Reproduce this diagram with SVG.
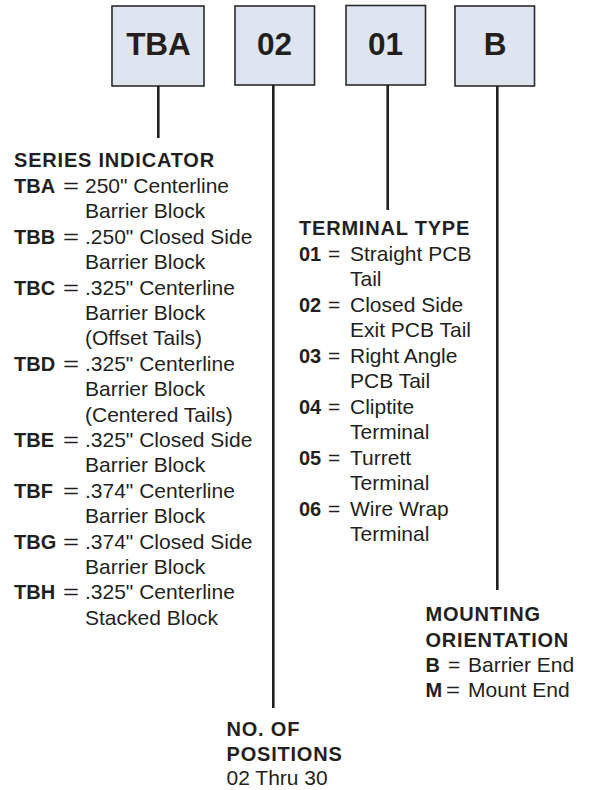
<svg xmlns="http://www.w3.org/2000/svg" width="590" height="790" viewBox="0 0 590 790">
<style>
.box{fill:#dfe5f0;stroke:#2b2b2b;stroke-width:1.6}
.code{font-family:"Liberation Sans",Arial,sans-serif;font-weight:bold;font-size:31.5px;fill:#231f20;text-anchor:middle}
.conn line{stroke:#231f20;stroke-width:2.6}
text{font-family:"Liberation Sans",Arial,sans-serif;font-size:21px;fill:#231f20}
.b{font-weight:bold;font-size:20px}
.h{font-weight:bold;font-size:20px;letter-spacing:0.8px}
</style>
<rect width="590" height="790" fill="#ffffff"/>
<g id="node-tba"><rect class="box" x="112" y="6" width="92" height="80"/><text class="code" x="158.5" y="55">TBA</text></g>
<g id="node-02"><rect class="box" x="235" y="6" width="79.5" height="79"/><text class="code" x="274.5" y="55">02</text></g>
<g id="node-01"><rect class="box" x="346" y="5.5" width="79.5" height="79.5"/><text class="code" x="385.5" y="55">01</text></g>
<g id="node-b"><rect class="box" x="455" y="6" width="79.5" height="80"/><text class="code" x="495" y="55">B</text></g>
<g id="connectors" class="conn">
<line x1="158.3" y1="86" x2="158.3" y2="138"/>
<line x1="273.3" y1="85" x2="273.3" y2="708"/>
<line x1="387.7" y1="85" x2="387.7" y2="210"/>
<line x1="497.3" y1="86" x2="497.3" y2="590"/>
</g>
<g id="series-indicator">
<text class="h" x="14" y="166.5">SERIES INDICATOR</text>
<text class="b" x="14" y="193">TBA</text><text x="63" y="193" textLength="16" lengthAdjust="spacingAndGlyphs">=</text><text x="85" y="193">250" Centerline</text>
<text x="85" y="218.4">Barrier Block</text>
<text class="b" x="14" y="243.8">TBB</text><text x="63" y="243.8" textLength="16" lengthAdjust="spacingAndGlyphs">=</text><text x="85" y="243.8">.250" Closed Side</text>
<text x="85" y="269.2">Barrier Block</text>
<text class="b" x="14" y="294.6">TBC</text><text x="63" y="294.6" textLength="16" lengthAdjust="spacingAndGlyphs">=</text><text x="85" y="294.6">.325" Centerline</text>
<text x="85" y="320">Barrier Block</text>
<text x="85" y="345.4">(Offset Tails)</text>
<text class="b" x="14" y="370.8">TBD</text><text x="63" y="370.8" textLength="16" lengthAdjust="spacingAndGlyphs">=</text><text x="85" y="370.8">.325" Centerline</text>
<text x="85" y="396.2">Barrier Block</text>
<text x="85" y="421.6">(Centered Tails)</text>
<text class="b" x="14" y="447">TBE</text><text x="63" y="447" textLength="16" lengthAdjust="spacingAndGlyphs">=</text><text x="85" y="447">.325" Closed Side</text>
<text x="85" y="472.4">Barrier Block</text>
<text class="b" x="14" y="497.8">TBF</text><text x="63" y="497.8" textLength="16" lengthAdjust="spacingAndGlyphs">=</text><text x="85" y="497.8">.374" Centerline</text>
<text x="85" y="523.2">Barrier Block</text>
<text class="b" x="14" y="548.6">TBG</text><text x="63" y="548.6" textLength="16" lengthAdjust="spacingAndGlyphs">=</text><text x="85" y="548.6">.374" Closed Side</text>
<text x="85" y="574">Barrier Block</text>
<text class="b" x="14" y="599.4">TBH</text><text x="63" y="599.4" textLength="16" lengthAdjust="spacingAndGlyphs">=</text><text x="85" y="599.4">.325" Centerline</text>
<text x="85" y="624.8">Stacked Block</text>
</g>
<g id="terminal-type">
<text class="h" x="299" y="235">TERMINAL TYPE</text>
<text class="b" x="299" y="260.5">01</text><text x="328" y="260.5">=</text><text x="350" y="260.5">Straight PCB</text>
<text x="350" y="286">Tail</text>
<text class="b" x="299" y="311.5">02</text><text x="328" y="311.5">=</text><text x="350" y="311.5">Closed Side</text>
<text x="350" y="337">Exit PCB Tail</text>
<text class="b" x="299" y="362.5">03</text><text x="328" y="362.5">=</text><text x="350" y="362.5">Right Angle</text>
<text x="350" y="388">PCB Tail</text>
<text class="b" x="299" y="413.5">04</text><text x="328" y="413.5">=</text><text x="350" y="413.5">Cliptite</text>
<text x="350" y="439">Terminal</text>
<text class="b" x="299" y="464.5">05</text><text x="328" y="464.5">=</text><text x="350" y="464.5">Turrett</text>
<text x="350" y="490">Terminal</text>
<text class="b" x="299" y="515.5">06</text><text x="328" y="515.5">=</text><text x="350" y="515.5">Wire Wrap</text>
<text x="350" y="541">Terminal</text>
</g>
<g id="mounting-orientation">
<text class="h" x="425.5" y="621">MOUNTING</text>
<text class="h" x="425.5" y="646.5">ORIENTATION</text>
<text class="b" x="425.5" y="672">B</text><text x="448" y="672">=</text><text x="468" y="672">Barrier End</text>
<text class="b" x="425.5" y="697">M</text><text x="446" y="697" textLength="14" lengthAdjust="spacingAndGlyphs">=</text><text x="468" y="697">Mount End</text>
</g>
<g id="positions">
<text class="h" x="226.5" y="736">NO. OF</text>
<text class="h" x="226.5" y="760.5">POSITIONS</text>
<text x="226.5" y="785">02 Thru 30</text>
</g>
</svg>
